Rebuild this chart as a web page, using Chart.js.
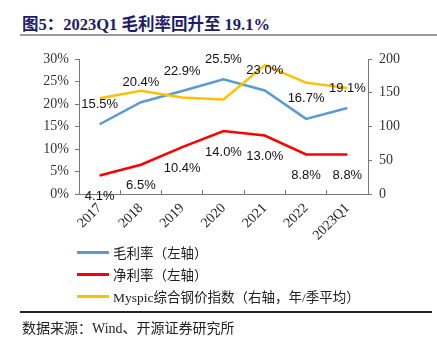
<!DOCTYPE html>
<html>
<head>
<meta charset="utf-8">
<script src="https://cdn.jsdelivr.net/npm/chart.js@4.4.0/dist/chart.umd.min.js"></script>
<style>
body { margin: 0; background: #fff; width: 437px; height: 343px; position: relative; overflow: hidden; }
#title { position: absolute; left: 22px; top: 11px; font: bold 16.5px "Liberation Serif", "Noto Sans CJK SC"; color: #1c1c6b; white-space: nowrap; }
#rule1 { position: absolute; left: 20px; top: 34px; width: 417px; height: 2px; background: #9a9a9a; }
#box { position: absolute; left: 0; top: 40px; width: 437px; height: 205px; }
#legend { position: absolute; left: 77px; top: 241px; font: 13.5px "Liberation Serif", "Noto Sans CJK SC"; color: #222; }
.item { height: 22px; display: flex; align-items: center; white-space: nowrap; }
.swatch { width: 32px; height: 3px; margin-right: 4px; }
#rule2 { position: absolute; left: 20px; top: 311px; width: 412px; height: 1.5px; background: #222; }
#source { position: absolute; left: 22px; top: 317px; font: 14px "Liberation Serif", "Noto Sans CJK SC"; color: #222; white-space: nowrap; }
</style>
</head>
<body>
<div id="title">图5：2023Q1 毛利率回升至 19.1%</div>
<div id="rule1"></div>
<div id="box"><canvas id="chart"></canvas></div>
<div id="legend"></div>
<div id="rule2"></div>
<div id="source">数据来源：Wind、开源证券研究所</div>
<script>
var categories = ['2017', '2018', '2019', '2020', '2021', '2022', '2023Q1'];
var grossMargin = [15.5, 20.4, 22.9, 25.5, 23.0, 16.7, 19.1];
var netMargin = [4.1, 6.5, 10.4, 14.0, 13.0, 8.8, 8.8];
var steelIndex = [142, 153, 143, 140, 191, 165, 157];

var serif = '"Liberation Serif", "Noto Sans CJK SC"';

// draws the value labels: above for gross margin, below for net margin
var valueLabels = {
    id: 'valueLabels',
    afterDatasetsDraw: function(chart) {
        var ctx = chart.ctx;
        ctx.save();
        ctx.font = '13px "Liberation Sans"';
        ctx.fillStyle = '#111';
        ctx.textAlign = 'center';
        ctx.textBaseline = 'middle';
        [0, 1].forEach(function(i) {
            var ds = chart.data.datasets[i];
            chart.getDatasetMeta(i).data.forEach(function(pt, j) {
                var dy = i == 0 ? -20 : 21;
                ctx.fillText(ds.data[j].toFixed(1) + '%', pt.x, pt.y + dy);
            });
        });
        ctx.restore();
    }
};

var chart = new Chart(document.getElementById('chart'), {
    type: 'line',
    data: {
        labels: categories,
        datasets: [
            { label: '毛利率（左轴）', data: grossMargin, borderColor: '#5b9bd5', yAxisID: 'y', order: 2 },
            { label: '净利率（左轴）', data: netMargin, borderColor: '#ff0000', yAxisID: 'y', order: 3 },
            { label: 'Myspic综合钢价指数（右轴，年/季平均）', data: steelIndex, borderColor: '#ffc000', yAxisID: 'y1', order: 1 }
        ]
    },
    options: {
        responsive: true,
        maintainAspectRatio: false,
        animation: false,
        layout: { padding: { top: 19, left: 0, right: 0, bottom: 0 } },
        elements: {
            line: { borderWidth: 2.5, tension: 0 },
            point: { radius: 0 }
        },
        plugins: { legend: { display: false }, tooltip: { enabled: false } },
        scales: {
            x: {
                offset: true,
                grid: { offset: true, drawOnChartArea: false, tickLength: -4, color: '#777' },
                border: { color: '#777' },
                ticks: { minRotation: 45, maxRotation: 45, padding: 10, color: '#222', font: { family: serif, size: 14 } },
                afterFit: function(s) { s.height = 51; }
            },
            y: {
                position: 'left',
                min: 0, max: 30,
                ticks: { stepSize: 5, padding: 6, color: '#333', font: { family: serif, size: 14 },
                    callback: function(v) { return v + '%'; } },
                grid: { drawOnChartArea: false, tickLength: 4, color: '#777' },
                border: { color: '#777' },
                afterFit: function(s) { s.width = 79; }
            },
            y1: {
                position: 'right',
                min: 0, max: 200,
                ticks: { stepSize: 50, padding: 7, color: '#333', font: { family: serif, size: 14 } },
                grid: { drawOnChartArea: false, tickLength: 4, color: '#777' },
                border: { color: '#777' },
                afterFit: function(s) { s.width = 69; }
            }
        }
    },
    plugins: [valueLabels]
});

// legend rows built from the datasets
var legend = document.getElementById('legend');
chart.data.datasets.forEach(function(ds) {
    var row = document.createElement('div');
    row.className = 'item';
    row.innerHTML = '<span class="swatch" style="background:' + ds.borderColor + '"></span><span>' + ds.label + '</span>';
    legend.appendChild(row);
});
</script>
</body>
</html>
